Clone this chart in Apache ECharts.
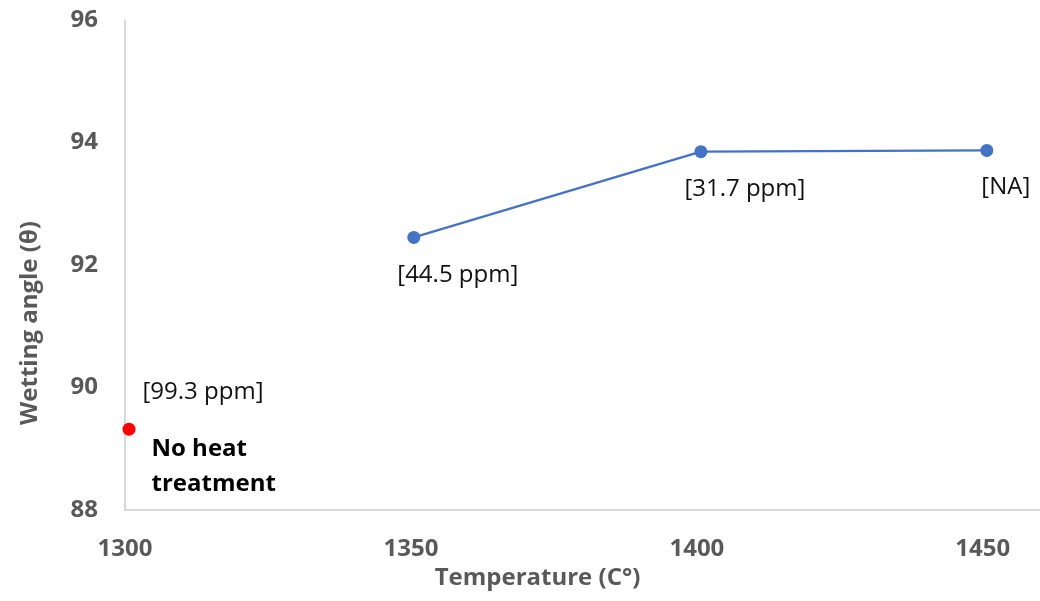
<!DOCTYPE html>
<html>
<head>
<meta charset="utf-8">
<script src="https://cdn.jsdelivr.net/npm/echarts@6/dist/echarts.min.js"></script>
<style>
  html, body { margin: 0; padding: 0; background: #ffffff; }
  #chart { width: 1040px; height: 601px; }
</style>
</head>
<body>
<div id="chart"></div>
<script>
// Heat-treated samples: temperature (°C) vs wetting angle, with residual content labels
const treatedTemps = [1350.5, 1400.7, 1450.7];
const treatedAngles = [92.45, 93.85, 93.87];
const treatedLabels = ['[44.5 ppm]', '[31.7 ppm]', '[NA]'];

// Untreated reference sample
const untreatedTemp = [1300.7];
const untreatedAngle = [89.32];
const untreatedLabel = ['[99.3 ppm]'];
const untreatedNote = ['No heat', 'treatment'];

// Axis ticks
const xTicks = [1300, 1350, 1400, 1450];
const yTicks = [88, 90, 92, 94, 96];

const FONT = 'Open Sans';
const labelOffsets = [[44, 38], [44, 37], [19, 37]];

const chart = echarts.init(document.getElementById('chart'), null, { renderer: 'canvas' });

const treatedData = treatedTemps.map((t, i) => ({
  value: [t, treatedAngles[i]],
  label: {
    show: true,
    position: 'inside',
    offset: labelOffsets[i],
    formatter: treatedLabels[i],
    color: '#111111',
    fontFamily: FONT,
    fontSize: 24
  }
}));

const untreatedData = untreatedTemp.map((t, i) => ({
  value: [t, untreatedAngle[i]],
  label: {
    show: true,
    position: [20, -48.5],
    align: 'left',
    verticalAlign: 'top',
    color: '#111111',
    formatter: '{a|' + untreatedLabel[i] + '}\n{s| }\n{b|' + untreatedNote[0] + '}\n{b|' + untreatedNote[1] + '}',
    rich: {
      a: { fontFamily: FONT, fontSize: 24, lineHeight: 36, color: '#111111' },
      s: { fontSize: 1, lineHeight: 22 },
      b: { fontFamily: FONT, fontSize: 24, fontWeight: 'bold', lineHeight: 35, color: '#000000', padding: [0, 0, 0, 9] }
    }
  }
}));

const axisLabelStyle = {
  color: '#595959',
  fontFamily: FONT,
  fontSize: 24,
  fontWeight: 'bold'
};
const axisNameStyle = {
  color: '#595959',
  fontFamily: FONT,
  fontSize: 24,
  fontWeight: 'bold'
};

chart.setOption({
  backgroundColor: '#ffffff',
  animation: false,
  grid: { left: 125, right: 0, top: 20, bottom: 91, containLabel: false },
  xAxis: {
    type: 'value',
    min: xTicks[0],
    max: 1460,
    interval: xTicks[1] - xTicks[0],
    name: 'Temperature (C°)',
    nameLocation: 'middle',
    nameGap: 52,
    nameTextStyle: Object.assign({}, axisNameStyle, { padding: [0, 90, 0, 0] }),
    axisLine: { show: true, lineStyle: { color: '#d9d9d9', width: 2 } },
    axisTick: { show: false },
    splitLine: { show: false },
    axisLabel: Object.assign({}, axisLabelStyle, {
      margin: 27,
      showMaxLabel: false,
      formatter: v => (xTicks.indexOf(v) >= 0 ? String(v) : '')
    })
  },
  yAxis: {
    type: 'value',
    min: yTicks[0],
    max: yTicks[yTicks.length - 1],
    interval: yTicks[1] - yTicks[0],
    name: 'Wetting angle (θ)',
    nameLocation: 'middle',
    nameRotate: 90,
    nameGap: 83,
    nameTextStyle: Object.assign({}, axisNameStyle, { padding: [0, 116, 0, 0] }),
    axisLine: { show: true, lineStyle: { color: '#d9d9d9', width: 2 } },
    axisTick: { show: false },
    splitLine: { show: false },
    axisLabel: Object.assign({}, axisLabelStyle, { margin: 27 })
  },
  series: [
    {
      name: 'Heat treated',
      type: 'line',
      data: treatedData,
      symbol: 'circle',
      symbolSize: 13,
      lineStyle: { color: '#4472c4', width: 2.25 },
      itemStyle: { color: '#4472c4', opacity: 1 },
      z: 3
    },
    {
      name: 'No heat treatment',
      type: 'scatter',
      data: untreatedData,
      symbol: 'circle',
      symbolSize: 13,
      itemStyle: { color: '#ff0000', opacity: 1 },
      z: 4
    }
  ]
});
</script>
</body>
</html>
